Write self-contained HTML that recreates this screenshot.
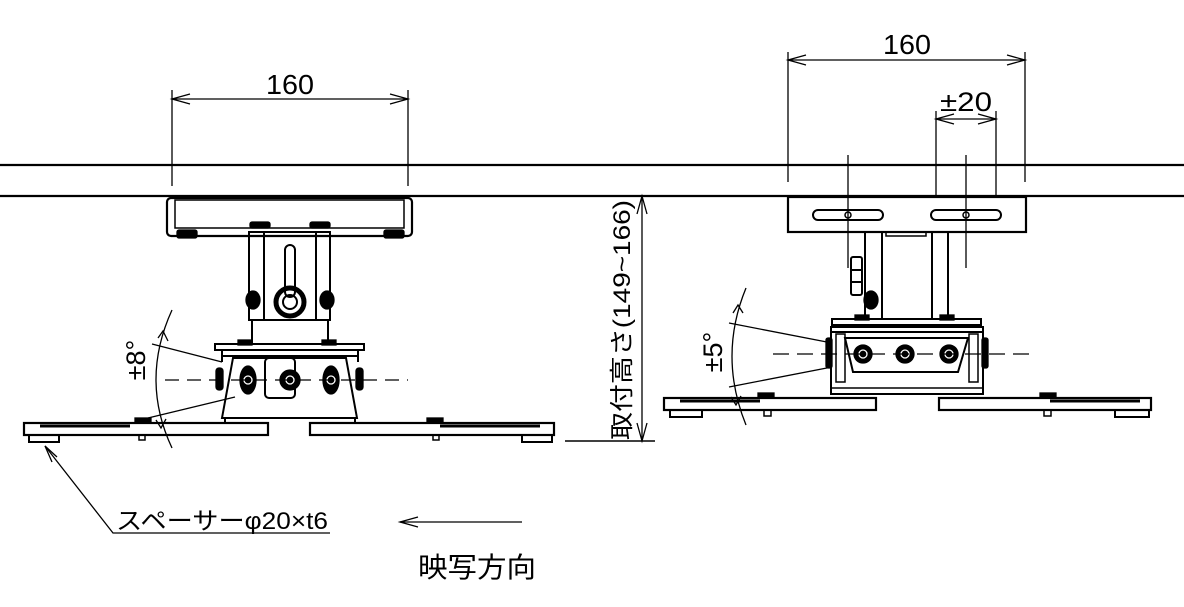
<!DOCTYPE html>
<html><head><meta charset="utf-8"><style>
html,body{margin:0;padding:0;background:#fff;}
svg{display:block;}
text{font-family:"Liberation Sans","Noto Sans CJK JP",sans-serif;fill:#000;}
</style></head><body>
<svg width="1184" height="607" viewBox="0 0 1184 607" xmlns="http://www.w3.org/2000/svg">
<g stroke="#000" fill="none" stroke-width="1.3">
<line x1="0" y1="165" x2="1184" y2="165" stroke-width="2.2"/>
<line x1="0" y1="196" x2="1184" y2="196" stroke-width="2.2"/>

<line x1="172" y1="90" x2="172" y2="186"/>
<line x1="408" y1="90" x2="408" y2="186"/>
<line x1="172" y1="99" x2="408" y2="99"/>
<polyline points="190,94 172,99 190,104"/>
<polyline points="390,94 408,99 390,104"/>

<rect x="167" y="198" width="245" height="38" rx="4" stroke-width="2.2"/>
<rect x="175" y="200" width="229" height="28" stroke-width="1.5"/>
<rect x="177" y="230" width="20" height="8" fill="#000" rx="2"/>
<rect x="384" y="230" width="20" height="8" fill="#000" rx="2"/>
<rect x="250" y="222" width="20" height="6" fill="#000" rx="2"/>
<rect x="310" y="222" width="20" height="6" fill="#000" rx="2"/>
<rect x="249" y="232" width="81" height="88" stroke-width="2"/>
<line x1="264" y1="232" x2="264" y2="320" stroke-width="2"/>
<line x1="316" y1="232" x2="316" y2="320" stroke-width="2"/>
<rect x="285" y="245" width="10" height="52" rx="5" stroke-width="2"/>
<line x1="252" y1="320" x2="252" y2="344" stroke-width="2"/>
<line x1="328" y1="320" x2="328" y2="344" stroke-width="2"/>
<circle cx="290" cy="302" r="14" stroke-width="5"/>
<circle cx="290" cy="302" r="7" stroke-width="2"/>
<ellipse cx="253" cy="300" rx="7" ry="9" fill="#000"/>
<ellipse cx="327" cy="300" rx="7" ry="9" fill="#000"/>
<rect x="215" y="344" width="149" height="6" stroke-width="2"/>
<rect x="238" y="340" width="14" height="5" fill="#000"/>
<rect x="322" y="340" width="14" height="5" fill="#000"/>
<line x1="222" y1="350" x2="222" y2="362" stroke-width="2"/>
<line x1="358" y1="350" x2="358" y2="362" stroke-width="2"/>
<line x1="222" y1="356" x2="358" y2="356" stroke-width="2"/>
<polygon points="233,358 346,358 357,418 222,418" stroke-width="2"/>
<rect x="265" y="358" width="30" height="40" rx="4" stroke-width="2"/>
<rect x="216" y="368" width="7" height="22" rx="3" fill="#000"/>
<rect x="356" y="368" width="7" height="22" rx="3" fill="#000"/>
<ellipse cx="248" cy="380" rx="8" ry="14" fill="#000"/>
<ellipse cx="331" cy="380" rx="8" ry="14" fill="#000"/>
<circle cx="290" cy="380" r="10" fill="#000"/>
<circle cx="248" cy="380" r="4" stroke="#fff"/>
<circle cx="331" cy="380" r="4" stroke="#fff"/>
<circle cx="290" cy="380" r="4" stroke="#fff"/>
<line x1="165" y1="380" x2="408" y2="380" stroke-dasharray="14,8"/>
<rect x="24" y="423" width="244" height="12" stroke-width="2.2"/>
<rect x="310" y="423" width="244" height="12" stroke-width="2.2"/>
<line x1="40" y1="426" x2="130" y2="426" stroke-width="3"/>
<line x1="440" y1="426" x2="540" y2="426" stroke-width="3"/>
<rect x="29" y="435" width="30" height="7" stroke-width="2"/>
<rect x="522" y="435" width="30" height="7" stroke-width="2"/>
<rect x="139" y="435" width="6" height="5" stroke-width="1.5"/>
<rect x="433" y="435" width="6" height="5" stroke-width="1.5"/>
<rect x="135" y="418" width="16" height="5" fill="#000"/>
<rect x="427" y="418" width="16" height="5" fill="#000"/>
<line x1="225" y1="418" x2="225" y2="423" stroke-width="2"/>
<line x1="355" y1="418" x2="355" y2="423" stroke-width="2"/>
<line x1="222" y1="362" x2="152" y2="344"/>
<line x1="235" y1="397" x2="148" y2="418"/>
<path d="M172,310 Q140,380 172,448"/>
<polyline points="158,338 163,331 168,341"/>
<polyline points="156,420 161,428 166,419"/>

<polyline points="45,446 113,533 330,533"/>
<polyline points="52,462 45,446 57,457"/>
<line x1="400" y1="522" x2="522" y2="522"/>
<polyline points="418,517 400,522 418,527"/>

<line x1="642" y1="196" x2="642" y2="441"/>
<polyline points="637,214 642,196 647,214"/>
<polyline points="637,423 642,441 647,423"/>
<line x1="565" y1="441" x2="655" y2="441" stroke-width="1.5"/>

<line x1="788" y1="52" x2="788" y2="182"/>
<line x1="1025" y1="52" x2="1025" y2="182"/>
<line x1="788" y1="60" x2="1025" y2="60"/>
<polyline points="806,55 788,60 806,65"/>
<polyline points="1007,55 1025,60 1007,65"/>
<line x1="936" y1="111" x2="936" y2="198"/>
<line x1="996" y1="111" x2="996" y2="198"/>
<line x1="936" y1="119" x2="996" y2="119"/>
<polyline points="954,114 936,119 954,124"/>
<polyline points="978,114 996,119 978,124"/>
<line x1="848" y1="155" x2="848" y2="268"/>
<line x1="966" y1="155" x2="966" y2="268"/>

<rect x="788" y="197" width="238" height="35" stroke-width="2.2"/>
<rect x="813" y="210" width="70" height="10" rx="5" stroke-width="2"/>
<rect x="931" y="210" width="70" height="10" rx="5" stroke-width="2"/>
<circle cx="848" cy="215" r="3" stroke-width="1.5"/>
<circle cx="966" cy="215" r="3" stroke-width="1.5"/>
<rect x="886" y="232" width="40" height="4" stroke-width="1.5"/>
<line x1="865" y1="232" x2="865" y2="319" stroke-width="2"/>
<line x1="882" y1="232" x2="882" y2="319" stroke-width="2"/>
<line x1="932" y1="232" x2="932" y2="319" stroke-width="2"/>
<line x1="948" y1="232" x2="948" y2="319" stroke-width="2"/>
<rect x="851" y="257" width="11" height="38" rx="2" stroke-width="2"/>
<line x1="851" y1="270" x2="862" y2="270" stroke-width="2"/>
<line x1="851" y1="282" x2="862" y2="282" stroke-width="2"/>
<ellipse cx="871" cy="300" rx="7" ry="9" fill="#000"/>
<rect x="832" y="319" width="149" height="6" stroke-width="2"/>
<rect x="855" y="315" width="14" height="5" fill="#000"/>
<rect x="940" y="315" width="14" height="5" fill="#000"/>
<rect x="831" y="327" width="152" height="67" stroke-width="2"/>
<line x1="831" y1="332" x2="983" y2="332" stroke-width="2"/>
<polygon points="845,338 968,338 958,372 853,372" stroke-width="2"/>
<rect x="826" y="338" width="6" height="30" rx="2" fill="#000"/>
<rect x="982" y="338" width="6" height="30" rx="2" fill="#000"/>
<rect x="836" y="334" width="9" height="48" stroke-width="1.5"/>
<rect x="969" y="334" width="9" height="48" stroke-width="1.5"/>
<line x1="831" y1="388" x2="983" y2="388" stroke-width="1.5"/>
<circle cx="863" cy="354" r="9" fill="#000"/>
<circle cx="905" cy="354" r="9" fill="#000"/>
<circle cx="949" cy="354" r="9" fill="#000"/>
<circle cx="863" cy="354" r="4" stroke="#fff"/>
<circle cx="905" cy="354" r="4" stroke="#fff"/>
<circle cx="949" cy="354" r="4" stroke="#fff"/>
<line x1="773" y1="354" x2="1036" y2="354" stroke-dasharray="16,8"/>
<rect x="664" y="398" width="212" height="12" stroke-width="2.2"/>
<rect x="939" y="398" width="212" height="12" stroke-width="2.2"/>
<line x1="680" y1="401" x2="760" y2="401" stroke-width="3"/>
<line x1="1050" y1="401" x2="1140" y2="401" stroke-width="3"/>
<rect x="670" y="410" width="32" height="7" stroke-width="2"/>
<rect x="1115" y="410" width="34" height="7" stroke-width="2"/>
<rect x="764" y="410" width="7" height="6" stroke-width="1.5"/>
<rect x="1044" y="410" width="7" height="6" stroke-width="1.5"/>
<rect x="758" y="393" width="16" height="5" fill="#000"/>
<rect x="1040" y="393" width="16" height="5" fill="#000"/>
<line x1="832" y1="343" x2="729" y2="323"/>
<line x1="832" y1="367" x2="729" y2="387"/>
<path d="M746,288 Q718,356 746,425"/>
<polyline points="733,313 738,305 743,313"/>
<polyline points="731,397 736,405 741,396"/>
</g>

<g font-size="28">
<text x="266" y="94" textLength="48" lengthAdjust="spacingAndGlyphs">160</text>
<text x="883" y="54" textLength="48" lengthAdjust="spacingAndGlyphs">160</text>
<text x="940" y="111" font-size="27" textLength="52" lengthAdjust="spacingAndGlyphs">±20</text>
</g>
<text transform="translate(145,360) rotate(-90)" text-anchor="middle" font-size="27">±8°</text>
<text transform="translate(722,352) rotate(-90)" text-anchor="middle" font-size="27">±5°</text>
<text transform="translate(630,440) rotate(-90)" font-size="24" textLength="240" lengthAdjust="spacingAndGlyphs">取付高さ(149~166)</text>
<text x="116" y="529" font-size="24" textLength="212" lengthAdjust="spacingAndGlyphs">スペーサーφ20×t6</text>
<text x="418" y="577" font-size="28" textLength="118" lengthAdjust="spacingAndGlyphs">映写方向</text>
</svg>
</body></html>
